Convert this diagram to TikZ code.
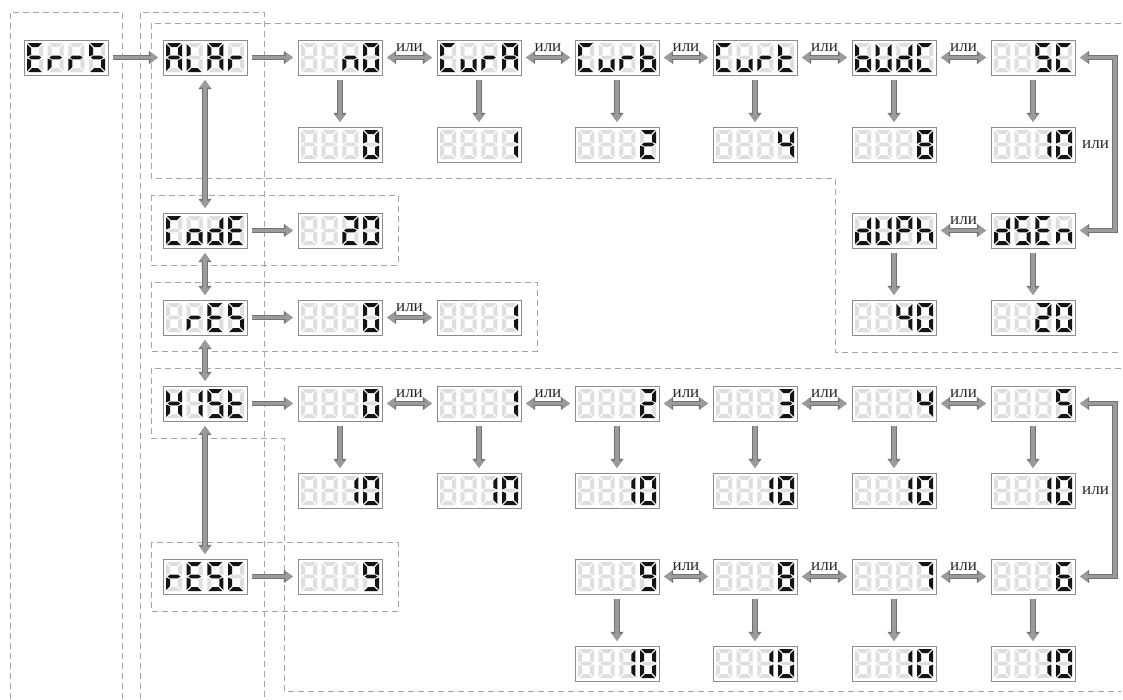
\documentclass[tikz,border=0pt]{standalone}
\usepackage{fontspec}
\newfontfamily\rufont{Liberation Serif}
\usetikzlibrary{arrows.meta}
\definecolor{segon}{RGB}{20,20,20}
\definecolor{segoff}{RGB}{222,222,222}
\definecolor{boxgray}{RGB}{140,140,140}
\definecolor{arrfill}{RGB}{155,155,155}
\definecolor{arrdark}{RGB}{115,115,115}
\definecolor{dashgray}{RGB}{165,165,165}
\tikzset{
 dbox/.style={draw=boxgray, fill=white, line width=0.9pt, minimum width=84pt, minimum height=35pt, inner sep=0pt, outer sep=0pt, anchor=north west},
 arr/.style={draw=arrfill, line width=3.4pt, line join=miter, shorten >=5pt, shorten <=5pt,
   -{Triangle[width=10pt,length=7.5pt]},
   preaction={draw=arrdark, line width=5.2pt, -{Triangle[width=12.6pt,length=9.2pt]}}},
 darr/.style={draw=arrfill, line width=3.4pt, line join=miter, shorten >=5pt, shorten <=5pt,
   {Triangle[width=10pt,length=7.5pt]}-{Triangle[width=10pt,length=7.5pt]},
   preaction={draw=arrdark, line width=5.2pt, {Triangle[width=12.6pt,length=9.2pt]}-{Triangle[width=12.6pt,length=9.2pt]}}},
 grp/.style={draw=dashgray, line width=0.9pt, dash pattern=on 6pt off 4pt},
 lbl/.style={font=\rufont\fontsize{17}{17}\selectfont, inner sep=0pt, text=black!85}
}
\def\sgB{0000000}
\def\sgZero{1111110}
\def\sgOne{0110000}
\def\sgTwo{1101101}
\def\sgThree{1111001}
\def\sgFour{0110011}
\def\sgFive{1011011}
\def\sgSix{1011111}
\def\sgSeven{1110000}
\def\sgEight{1111111}
\def\sgNine{1111011}
\def\sgA{1110111}
\def\sgb{0011111}
\def\sgC{1001110}
\def\sgd{0111101}
\def\sgE{1001111}
\def\sgh{0010111}
\def\sgH{0110111}
\def\sgL{0001110}
\def\sgn{0010101}
\def\sgo{0011101}
\def\sgP{1100111}
\def\sgr{0000101}
\def\sgS{1011011}
\def\sgt{0001111}
\def\sgu{0011100}
\def\sgU{0111110}
\def\sgseg#1#2{\ifnum#1=1 \fill[segon]#2--cycle;\else\fill[segoff]#2--cycle;\fi}
\def\sgparse#1#2#3#4#5#6#7\relax{%
 \sgseg{#1}{(1,0)--(15,0)--(11,4)--(5,4)}%
 \sgseg{#2}{(16,1)--(16,13.5)--(12,11.9)--(12,5)}%
 \sgseg{#3}{(16,15.5)--(16,28)--(12,24)--(12,17.1)}%
 \sgseg{#4}{(1,29)--(15,29)--(11,25)--(5,25)}%
 \sgseg{#5}{(0,15.5)--(0,28)--(4,24)--(4,17.1)}%
 \sgseg{#6}{(0,1)--(0,13.5)--(4,11.9)--(4,5)}%
 \sgseg{#7}{(1.6,14.5)--(4.2,12.6)--(11.8,12.6)--(14.4,14.5)--(11.8,16.4)--(4.2,16.4)}}
\newcommand\sgcell[2]{\begin{scope}[shift={(#1,3)}]\expandafter\sgparse#2\relax\end{scope}}
\newcommand\segdisp[7]{\node[dbox] (#1) at (#2,#3) {};%
 \begin{scope}[shift={(#2,#3)}]\sgcell{3}{#4}\sgcell{23.7}{#5}\sgcell{44.4}{#6}\sgcell{65.1}{#7}\end{scope}}
\begin{document}
\begin{tikzpicture}[x=1pt,y=-1pt]
\useasboundingbox (0,0) rectangle (1123,699);
% group frames
\draw[grp] (10,699) -- (10,12) -- (122,12) -- (122,699);
\draw[grp] (140,699) -- (140,12) -- (264,12) -- (264,699);
\draw[grp] (1121,23) -- (151,23) -- (151,178) -- (835,178) -- (835,352) -- (1121,352);
\draw[grp] (151,195) rectangle (398,265);
\draw[grp] (151,282) rectangle (537,351);
\draw[grp] (1121,368) -- (151,368) -- (151,438) -- (284,438) -- (284,691) -- (1121,691);
\draw[grp] (151,542) rectangle (398,611);
% displays
\segdisp{errs}{24}{40}{\sgE}{\sgr}{\sgr}{\sgS}
\segdisp{alar}{163}{40}{\sgA}{\sgL}{\sgA}{\sgr}
\segdisp{n0}{298}{40}{\sgB}{\sgB}{\sgn}{\sgZero}
\segdisp{cura}{437}{40}{\sgC}{\sgu}{\sgr}{\sgA}
\segdisp{curb}{575}{40}{\sgC}{\sgu}{\sgr}{\sgb}
\segdisp{curt}{713}{40}{\sgC}{\sgu}{\sgr}{\sgt}
\segdisp{budc}{852}{40}{\sgb}{\sgU}{\sgd}{\sgC}
\segdisp{sc}{991}{40}{\sgB}{\sgB}{\sgS}{\sgC}
\segdisp{v0}{298}{127}{\sgB}{\sgB}{\sgB}{\sgZero}
\segdisp{v1}{437}{127}{\sgB}{\sgB}{\sgB}{\sgOne}
\segdisp{v2}{575}{127}{\sgB}{\sgB}{\sgB}{\sgTwo}
\segdisp{v4}{713}{127}{\sgB}{\sgB}{\sgB}{\sgFour}
\segdisp{v8}{852}{127}{\sgB}{\sgB}{\sgB}{\sgEight}
\segdisp{v10}{991}{127}{\sgB}{\sgB}{\sgOne}{\sgZero}
\segdisp{code}{163}{213}{\sgC}{\sgo}{\sgd}{\sgE}
\segdisp{c20}{298}{213}{\sgB}{\sgB}{\sgTwo}{\sgZero}
\segdisp{duph}{852}{213}{\sgd}{\sgU}{\sgP}{\sgh}
\segdisp{dsen}{991}{213}{\sgd}{\sgS}{\sgE}{\sgn}
\segdisp{res}{163}{300}{\sgB}{\sgr}{\sgE}{\sgS}
\segdisp{r0}{298}{300}{\sgB}{\sgB}{\sgB}{\sgZero}
\segdisp{r1}{437}{300}{\sgB}{\sgB}{\sgB}{\sgOne}
\segdisp{d40}{852}{300}{\sgB}{\sgB}{\sgFour}{\sgZero}
\segdisp{d20}{991}{300}{\sgB}{\sgB}{\sgTwo}{\sgZero}
\segdisp{hist}{163}{386}{\sgH}{\sgOne}{\sgS}{\sgt}
\segdisp{h0}{298}{386}{\sgB}{\sgB}{\sgB}{\sgZero}
\segdisp{h1}{437}{386}{\sgB}{\sgB}{\sgB}{\sgOne}
\segdisp{h2}{575}{386}{\sgB}{\sgB}{\sgB}{\sgTwo}
\segdisp{h3}{713}{386}{\sgB}{\sgB}{\sgB}{\sgThree}
\segdisp{h4}{852}{386}{\sgB}{\sgB}{\sgB}{\sgFour}
\segdisp{h5}{991}{386}{\sgB}{\sgB}{\sgB}{\sgFive}
\segdisp{t0}{298}{473}{\sgB}{\sgB}{\sgOne}{\sgZero}
\segdisp{t1}{437}{473}{\sgB}{\sgB}{\sgOne}{\sgZero}
\segdisp{t2}{575}{473}{\sgB}{\sgB}{\sgOne}{\sgZero}
\segdisp{t3}{713}{473}{\sgB}{\sgB}{\sgOne}{\sgZero}
\segdisp{t4}{852}{473}{\sgB}{\sgB}{\sgOne}{\sgZero}
\segdisp{t5}{991}{473}{\sgB}{\sgB}{\sgOne}{\sgZero}
\segdisp{resc}{163}{559}{\sgr}{\sgE}{\sgS}{\sgC}
\segdisp{n9}{298}{559}{\sgB}{\sgB}{\sgB}{\sgNine}
\segdisp{b9}{575}{559}{\sgB}{\sgB}{\sgB}{\sgNine}
\segdisp{b8}{713}{559}{\sgB}{\sgB}{\sgB}{\sgEight}
\segdisp{b7}{852}{559}{\sgB}{\sgB}{\sgB}{\sgSeven}
\segdisp{b6}{991}{559}{\sgB}{\sgB}{\sgB}{\sgSix}
\segdisp{u9}{575}{646}{\sgB}{\sgB}{\sgOne}{\sgZero}
\segdisp{u8}{713}{646}{\sgB}{\sgB}{\sgOne}{\sgZero}
\segdisp{u7}{852}{646}{\sgB}{\sgB}{\sgOne}{\sgZero}
\segdisp{u6}{991}{646}{\sgB}{\sgB}{\sgOne}{\sgZero}
% left column
\draw[arr] (errs) -- (alar);
\draw[arr] (alar) -- (n0);
\draw[darr] (alar) -- (code);
\draw[darr] (code) -- (res);
\draw[darr] (res) -- (hist);
\draw[darr] (hist) -- (resc);
\draw[arr] (code) -- (c20);
\draw[arr] (res) -- (r0);
\draw[arr] (hist) -- (h0);
\draw[arr] (resc) -- (n9);
% row 1
\draw[darr] (n0) -- node[lbl, above=4pt] {или} (cura);
\draw[darr] (cura) -- node[lbl, above=4pt] {или} (curb);
\draw[darr] (curb) -- node[lbl, above=4pt] {или} (curt);
\draw[darr] (curt) -- node[lbl, above=4pt] {или} (budc);
\draw[darr] (budc) -- node[lbl, above=4pt] {или} (sc);
\draw[arr] (n0) -- (v0);
\draw[arr] (cura) -- (v1);
\draw[arr] (curb) -- (v2);
\draw[arr] (curt) -- (v4);
\draw[arr] (budc) -- (v8);
\draw[arr] (sc) -- (v10);
\node[lbl, right=7pt] (or1) at (v10.east) {или};
\coordinate (k1) at (1115,57.5);
\coordinate (k2) at (1115,230.5);
\draw[darr] (sc.east) -- (k1) -- (k2) -- (dsen.east);
\draw[darr] (duph) -- node[lbl, above=4pt] {или} (dsen);
\draw[arr] (duph) -- (d40);
\draw[arr] (dsen) -- (d20);
% rES
\draw[darr] (r0) -- node[lbl, above=4pt] {или} (r1);
% HISt
\draw[darr] (h0) -- node[lbl, above=4pt] {или} (h1);
\draw[darr] (h1) -- node[lbl, above=4pt] {или} (h2);
\draw[darr] (h2) -- node[lbl, above=4pt] {или} (h3);
\draw[darr] (h3) -- node[lbl, above=4pt] {или} (h4);
\draw[darr] (h4) -- node[lbl, above=4pt] {или} (h5);
\draw[arr] (h0) -- (t0);
\draw[arr] (h1) -- (t1);
\draw[arr] (h2) -- (t2);
\draw[arr] (h3) -- (t3);
\draw[arr] (h4) -- (t4);
\draw[arr] (h5) -- (t5);
\node[lbl, right=7pt] (or2) at (t5.east) {или};
\coordinate (k3) at (1115,403.5);
\coordinate (k4) at (1115,576.5);
\draw[darr] (h5.east) -- (k3) -- (k4) -- (b6.east);
\draw[darr] (b9) -- node[lbl, above=4pt] {или} (b8);
\draw[darr] (b8) -- node[lbl, above=4pt] {или} (b7);
\draw[darr] (b7) -- node[lbl, above=4pt] {или} (b6);
\draw[arr] (b9) -- (u9);
\draw[arr] (b8) -- (u8);
\draw[arr] (b7) -- (u7);
\draw[arr] (b6) -- (u6);
\end{tikzpicture}
\end{document}
